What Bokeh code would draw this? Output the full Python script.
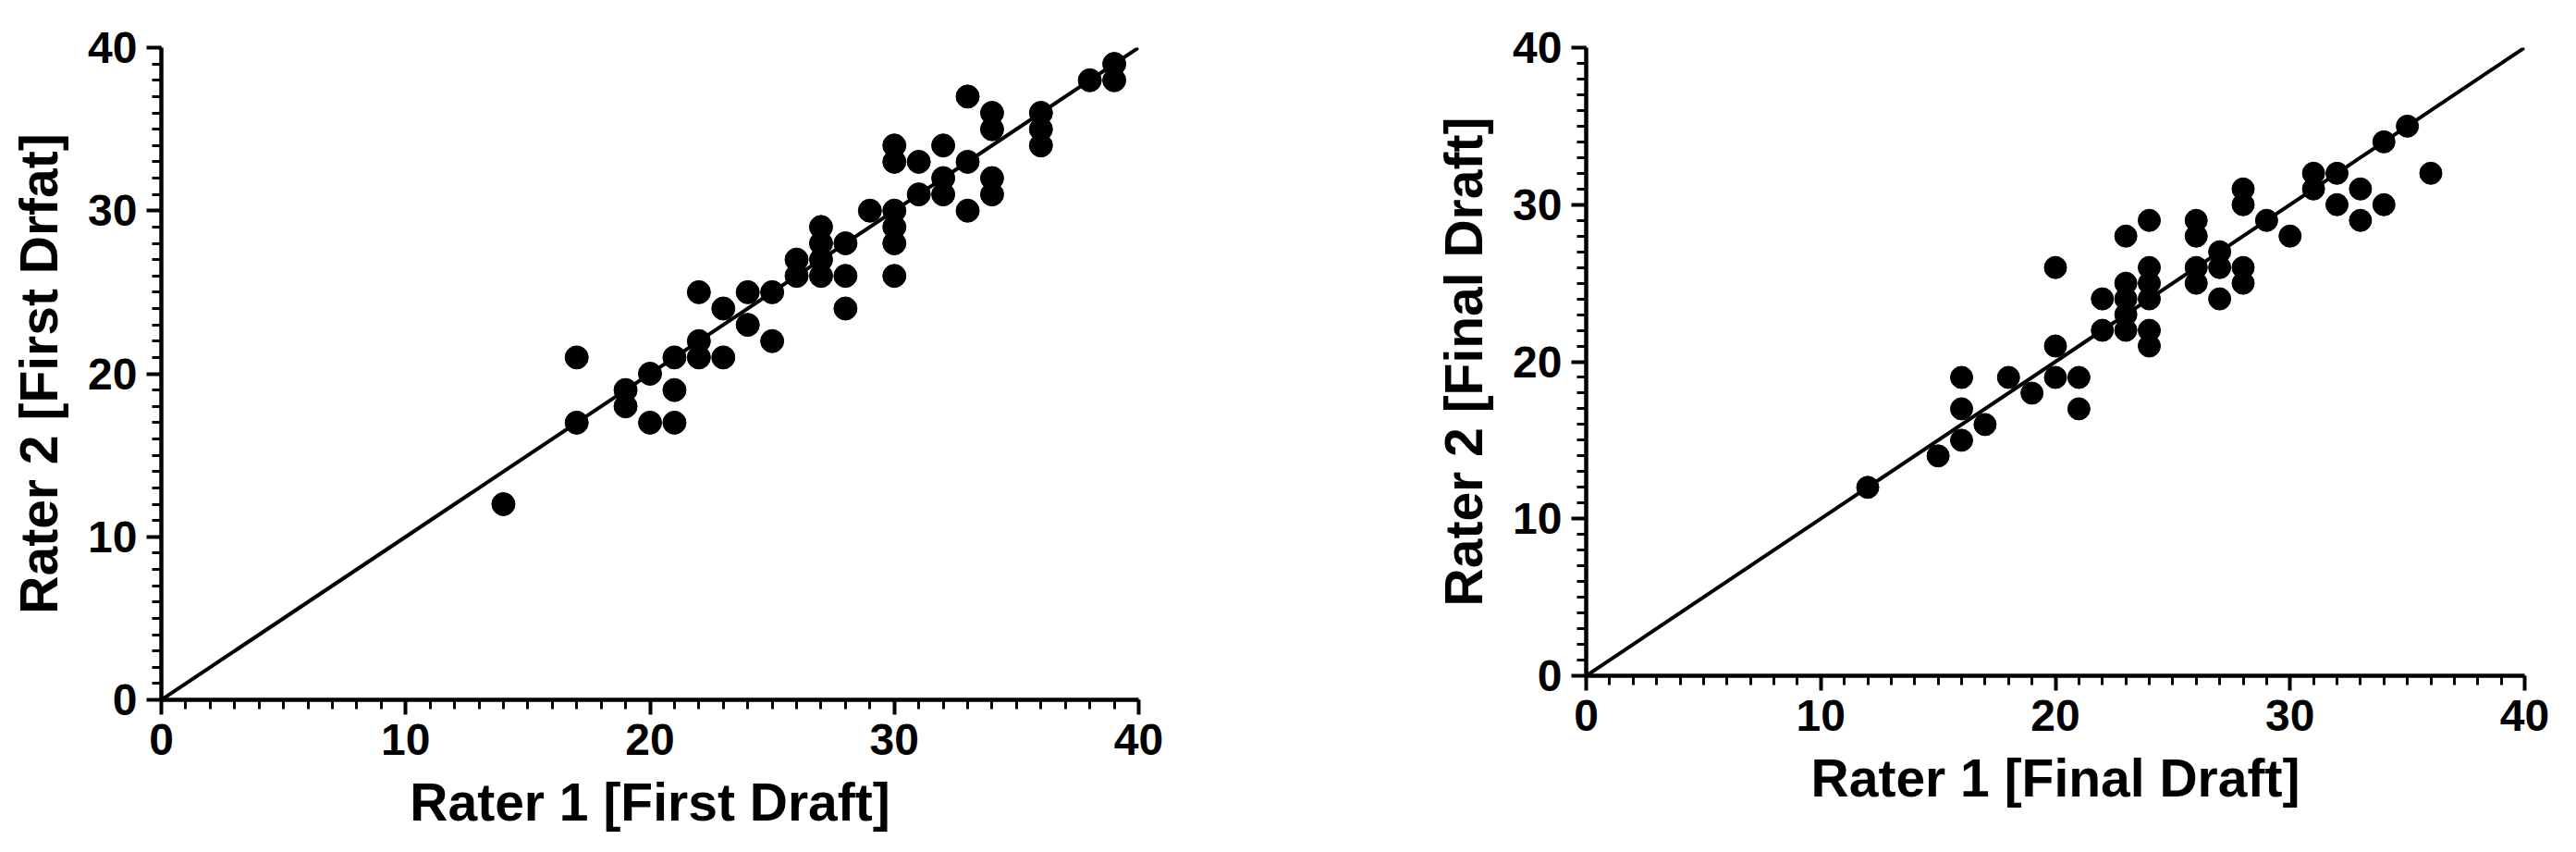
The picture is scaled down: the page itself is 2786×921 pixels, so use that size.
from bokeh.plotting import figure
from bokeh.layouts import row
from bokeh.models import Range1d, FixedTicker
from bokeh.embed import file_html
from bokeh.resources import INLINE

# ---- Data: First Draft (left) ----
first_r1 = [14, 17, 17, 19, 19, 20, 20, 21, 21, 21, 22, 22, 22, 23, 23, 24, 24, 25, 25,
            26, 26, 27, 27, 27, 27, 28, 28, 28, 29, 30, 30, 30, 30, 30, 30, 31, 31,
            32, 32, 32, 33, 33, 33, 34, 34, 34, 34, 36, 36, 36, 38, 39, 39]
first_r2 = [12, 21, 17, 19, 18, 20, 17, 21, 19, 17, 25, 22, 21, 24, 21, 25, 23, 25, 22,
            27, 26, 29, 28, 27, 26, 28, 26, 24, 30, 34, 33, 30, 29, 28, 26, 33, 31,
            34, 32, 31, 37, 33, 30, 36, 35, 32, 31, 36, 35, 34, 38, 39, 38]

# ---- Data: Final Draft (right) ----
final_r1 = [12, 15, 16, 16, 16, 17, 18, 19, 20, 20, 20, 21, 21, 22, 22, 23, 23, 23, 23, 23,
            24, 24, 24, 24, 24, 24, 26, 26, 26, 26, 27, 27, 27, 28, 28, 28, 28, 29, 30,
            31, 31, 32, 32, 33, 33, 34, 34, 35, 36]
final_r2 = [12, 14, 15, 17, 19, 16, 19, 18, 21, 19, 26, 19, 17, 24, 22, 28, 25, 24, 23, 22,
            29, 26, 25, 24, 22, 21, 29, 28, 26, 25, 27, 26, 24, 31, 30, 26, 25, 29, 28,
            32, 31, 32, 30, 31, 29, 30, 34, 35, 32]

# identity line
line_x = [0, 40]
line_y = [0, 40]

major_ticks = [0, 10, 20, 30, 40]
minor_ticks = list(range(0, 41))

FONT = "Liberation Sans"


def make_plot(xs, ys, xlabel, ylabel, fw, fh, bl, br, bt, bb, dot):
    p = figure(frame_width=fw, frame_height=fh,
               min_border_left=bl, min_border_right=br,
               min_border_top=bt, min_border_bottom=bb,
               x_range=Range1d(0, 40), y_range=Range1d(0, 40),
               output_backend="svg", toolbar_location=None,
               background_fill_color="white", border_fill_color="white")
    p.outline_line_color = None
    p.grid.visible = False
    p.line(line_x, line_y, line_width=4, line_color="black")
    p.scatter(xs, ys, size=dot, fill_color="black", line_color="black")
    for ax in (p.xaxis[0], p.yaxis[0]):
        ax.ticker = FixedTicker(ticks=major_ticks, minor_ticks=minor_ticks)
        ax.axis_line_width = 4.5
        ax.axis_line_color = "black"
        ax.major_tick_line_width = 4
        ax.major_tick_line_color = "black"
        ax.minor_tick_line_width = 3
        ax.minor_tick_line_color = "black"
        ax.major_tick_in = 0
        ax.major_tick_out = 16
        ax.minor_tick_in = 0
        ax.minor_tick_out = 10
        ax.major_label_text_font = FONT
        ax.major_label_text_font_size = "48px"
        ax.major_label_text_font_style = "bold"
        ax.major_label_text_color = "black"
        ax.major_label_standoff = 10
        ax.axis_label_text_font = FONT
        ax.axis_label_text_font_size = "57px"
        ax.axis_label_text_font_style = "bold"
        ax.axis_label_text_color = "black"
    p.xaxis[0].axis_label = xlabel
    p.yaxis[0].axis_label = ylabel
    p.xaxis[0].axis_label_standoff = 16
    p.yaxis[0].axis_label_standoff = 18
    return p


left = make_plot(first_r1, first_r2, "Rater 1 [First Draft]", "Rater 2 [First Drfat]",
                 fw=1057, fh=705, bl=174, br=69, bt=34, bb=166, dot=25)
right = make_plot(final_r1, final_r2, "Rater 1 [Final Draft]", "Rater 2 [Final Draft]",
                  fw=1015, fh=679, bl=415, br=32, bt=51, bb=175, dot=24)

layout = row(left, right)
open("out.html", "w").write(file_html(layout, INLINE))
